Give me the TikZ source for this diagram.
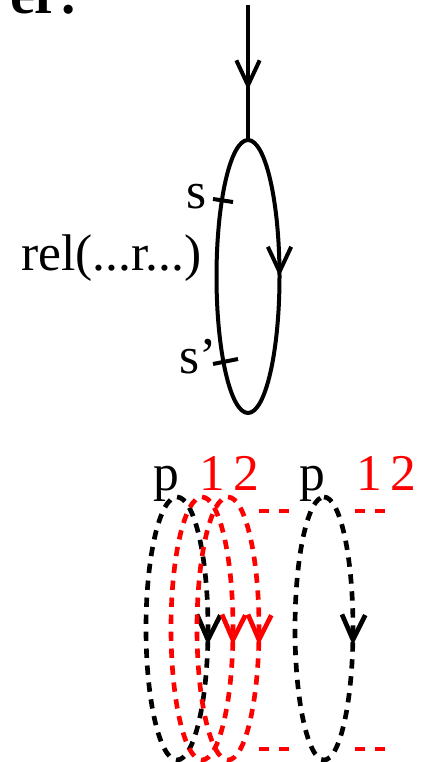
\documentclass[tikz,border=0pt]{standalone}
\usepackage{fontspec}
\setmainfont{Liberation Serif}
\usetikzlibrary{arrows.meta,decorations.markings}

\begin{document}
\begin{tikzpicture}[x=0.03cm,y=-0.03cm,line width=0.12cm,
    midbarb/.style={postaction={decorate},decoration={markings,
      mark=at position #1 with {\arrow{Straight Barb[length=0.75cm,width=0.7cm]}}}},
    loopdash/.style={line width=0.14cm,dash pattern=on 0.28cm off 0.23cm},
    stubdash/.style={red,line width=0.14cm,dash pattern=on 0.3cm off 0.3cm},
    lbl/.style={font=\fontsize{44}{52}\selectfont,inner sep=0pt,anchor=base}]
      \useasboundingbox (0,0) rectangle (423,762);

      \node[inner sep=0pt,anchor=base west,font=\fontsize{48}{56}\selectfont\bfseries] (head) at (8,14) {er:};

      % solid loop
      \coordinate (entry) at (248,5);
      \coordinate (looptop) at (248,140);
      \draw[midbarb=0.63] (entry) -- (looptop);
      \draw[midbarb=0.25] (looptop) arc (-90:270:31.5 and 136.5);
      \draw (213,199) -- (233,202);
      \draw (213,364) -- (238,359);
      \node[lbl,anchor=base east] (s) at (209,208) {s};
      \node[lbl,anchor=base east] (s2) at (219,373) {s'};
      \node[lbl,anchor=base west] (rel) at (19,270) {rel(...r...)};

      % dashed loops
      \draw[loopdash,midbarb=0.28] (177,497) arc (-90:270:31 and 131.5);
      \foreach \cx in {202,228}
        \draw[red,loopdash,midbarb=0.28] (\cx,497) arc (-90:270:31 and 131.5);
      \draw[loopdash,midbarb=0.28] (324,497) arc (-90:270:29 and 131.5);

      \draw[stubdash] (259,511) -- (289,511);
      \draw[stubdash] (259,749) -- (289,749);
      \draw[stubdash] (355,511) -- (385,511);
      \draw[stubdash] (355,749) -- (385,749);

      \node[lbl] (p1) at (166,490) {p};
      \node[lbl,red] (one1) at (212,490) {1};
      \node[lbl,red] (two1) at (246,490) {2};
      \node[lbl] (p2) at (312,490) {p};
      \node[lbl,red] (one2) at (369,490) {1};
      \node[lbl,red] (two2) at (403,490) {2};
    \end{tikzpicture}
\end{document}
